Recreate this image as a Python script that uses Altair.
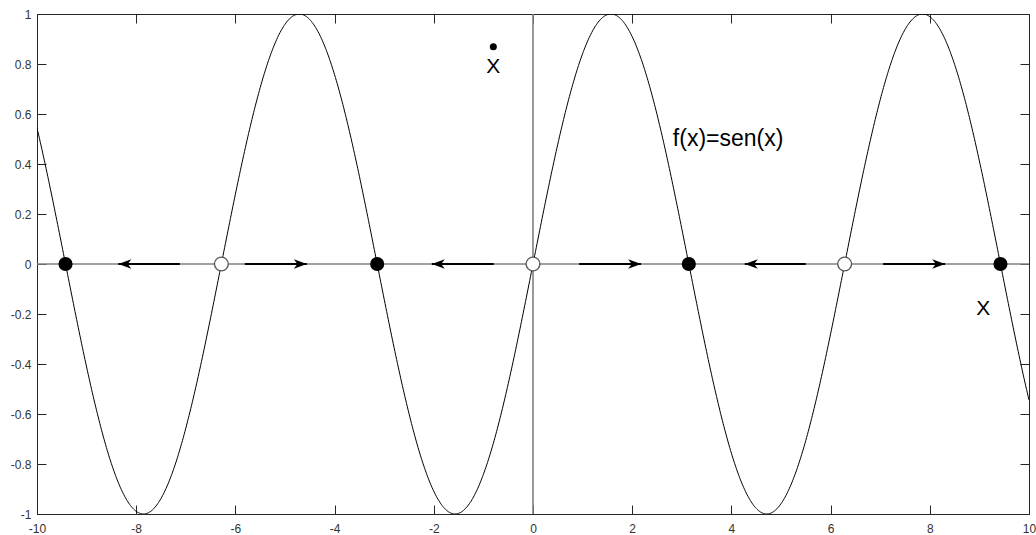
import numpy as np
import pandas as pd
import altair as alt

# f(x) = sen(x) sampled over the plotted interval
x_curve = np.linspace(-10, 10, 1201)
y_curve = np.sin(x_curve)

# equilibrium points on the x axis
stable_x = [-3 * np.pi, -np.pi, np.pi, 3 * np.pi]
unstable_x = [-2 * np.pi, 0.0, 2 * np.pi]

# flow arrows along the axis: start and tip
arrow_start = [-7.12, -5.81, -0.79, 0.93, 5.50, 7.06]
arrow_tip = [-8.36, -4.56, -2.04, 2.18, 4.27, 8.31]

# annotations
label_text = ["f(x)=sen(x)"]
label_x = [2.82]
label_y = [0.50]
x_marks_x = [-0.80, 9.08]
x_marks_y = [0.787, -0.181]
dot_x = [-0.80]
dot_y = [0.869]

x_ticks = list(range(-10, 11, 2))
y_ticks = [round(v, 1) for v in np.arange(-1, 1.01, 0.2)]

FONT = "Liberation Sans"
FRAME = "#262626"

xs = alt.Scale(domain=[-10, 10], nice=False, zero=False)
ys = alt.Scale(domain=[-1, 1], nice=False, zero=False)

axis_common = dict(
    domain=False, grid=False, tickSize=9, offset=-9, tickColor=FRAME,
    tickWidth=1, labelFont=FONT, labelFontSize=12, labelColor="#333333",
    labelExpr="'' + datum.value",
)

curve_df = pd.DataFrame({"x": x_curve, "y": y_curve})
curve = alt.Chart(curve_df).mark_line(color="black", strokeWidth=1, clip=True).encode(
    x=alt.X("x:Q", scale=xs, title=None,
            axis=alt.Axis(orient="bottom", values=x_ticks, labelPadding=9,
                          labelFlush=False, **axis_common)),
    y=alt.Y("y:Q", scale=ys, title=None,
            axis=alt.Axis(orient="left", values=y_ticks, labelPadding=6,
                          labelFlush=False, **axis_common)),
)

# horizontal zero line, also carrying the mirrored top/right ticks
hline = alt.Chart(pd.DataFrame({"x": [-10], "x2": [10], "y": [0]})).mark_rule(
    color="#808080", strokeWidth=1.3
).encode(
    x=alt.X("x:Q", scale=xs, title=None,
            axis=alt.Axis(orient="top", values=x_ticks, labels=False, **axis_common)),
    x2="x2:Q",
    y=alt.Y("y:Q", scale=ys, title=None,
            axis=alt.Axis(orient="right", values=y_ticks, labels=False, **axis_common)),
)

vline = alt.Chart(pd.DataFrame({"x": [0], "y": [-1], "y2": [1]})).mark_rule(
    color="#808080", strokeWidth=1.6
).encode(
    x=alt.X("x:Q", scale=xs, axis=None),
    y=alt.Y("y:Q", scale=ys, axis=None),
    y2="y2:Q",
)

arrow_df = pd.DataFrame({"start": arrow_start, "tip": arrow_tip})
arrow_df["dir"] = np.where(arrow_df["tip"] > arrow_df["start"], "right", "left")
arrow_df["y"] = 0.0

shafts = alt.Chart(arrow_df).mark_rule(color="black", strokeWidth=2).encode(
    x=alt.X("start:Q", scale=xs, axis=None),
    x2="tip:Q",
    y=alt.Y("y:Q", scale=ys, axis=None),
)

head_right = "M0,0 L-2,-0.72 L-1.45,0 L-2,0.72 Z"
head_left = "M0,0 L2,-0.72 L1.45,0 L2,0.72 Z"
heads = alt.Chart(arrow_df).mark_point(filled=True, opacity=1, color="black").encode(
    x=alt.X("tip:Q", scale=xs, axis=None),
    y=alt.Y("y:Q", scale=ys, axis=None),
    shape=alt.Shape("dir:N", scale=alt.Scale(domain=["left", "right"],
                                             range=[head_left, head_right]),
                    legend=None),
    size=alt.value(169),
)

stable = alt.Chart(pd.DataFrame({"x": stable_x, "y": 0.0})).mark_circle(
    color="black", opacity=1, size=200
).encode(
    x=alt.X("x:Q", scale=xs, axis=None),
    y=alt.Y("y:Q", scale=ys, axis=None),
)

unstable = alt.Chart(pd.DataFrame({"x": unstable_x, "y": 0.0})).mark_point(
    shape="circle", filled=False, fill="white", fillOpacity=1, stroke="#5a5a5a",
    strokeWidth=1.4, opacity=1, size=190
).encode(
    x=alt.X("x:Q", scale=xs, axis=None),
    y=alt.Y("y:Q", scale=ys, axis=None),
)

dot = alt.Chart(pd.DataFrame({"x": dot_x, "y": dot_y})).mark_circle(
    color="black", opacity=1, size=50
).encode(
    x=alt.X("x:Q", scale=xs, axis=None),
    y=alt.Y("y:Q", scale=ys, axis=None),
)

x_marks = alt.Chart(pd.DataFrame({"x": x_marks_x, "y": x_marks_y, "t": "X"})).mark_text(
    font=FONT, fontSize=21, color="black", align="center", baseline="middle"
).encode(
    x=alt.X("x:Q", scale=xs, axis=None),
    y=alt.Y("y:Q", scale=ys, axis=None),
    text="t:N",
)

label = alt.Chart(pd.DataFrame({"x": label_x, "y": label_y, "t": label_text})).mark_text(
    font=FONT, fontSize=23, color="black", align="left", baseline="middle"
).encode(
    x=alt.X("x:Q", scale=xs, axis=None),
    y=alt.Y("y:Q", scale=ys, axis=None),
    text="t:N",
)

chart = (
    alt.layer(hline, vline, curve, shafts, heads, unstable, stable, dot, x_marks, label)
    .resolve_axis(x="independent", y="independent")
    .properties(
        width=992, height=500,
        autosize=alt.AutoSizeParams(type="none"),
        padding={"left": 37, "top": 14, "right": 7, "bottom": 21},
        background="white",
    )
    .configure_view(stroke=FRAME, strokeWidth=1)
)

chart.save("out.html", embed_options={"renderer": "svg", "actions": False})
